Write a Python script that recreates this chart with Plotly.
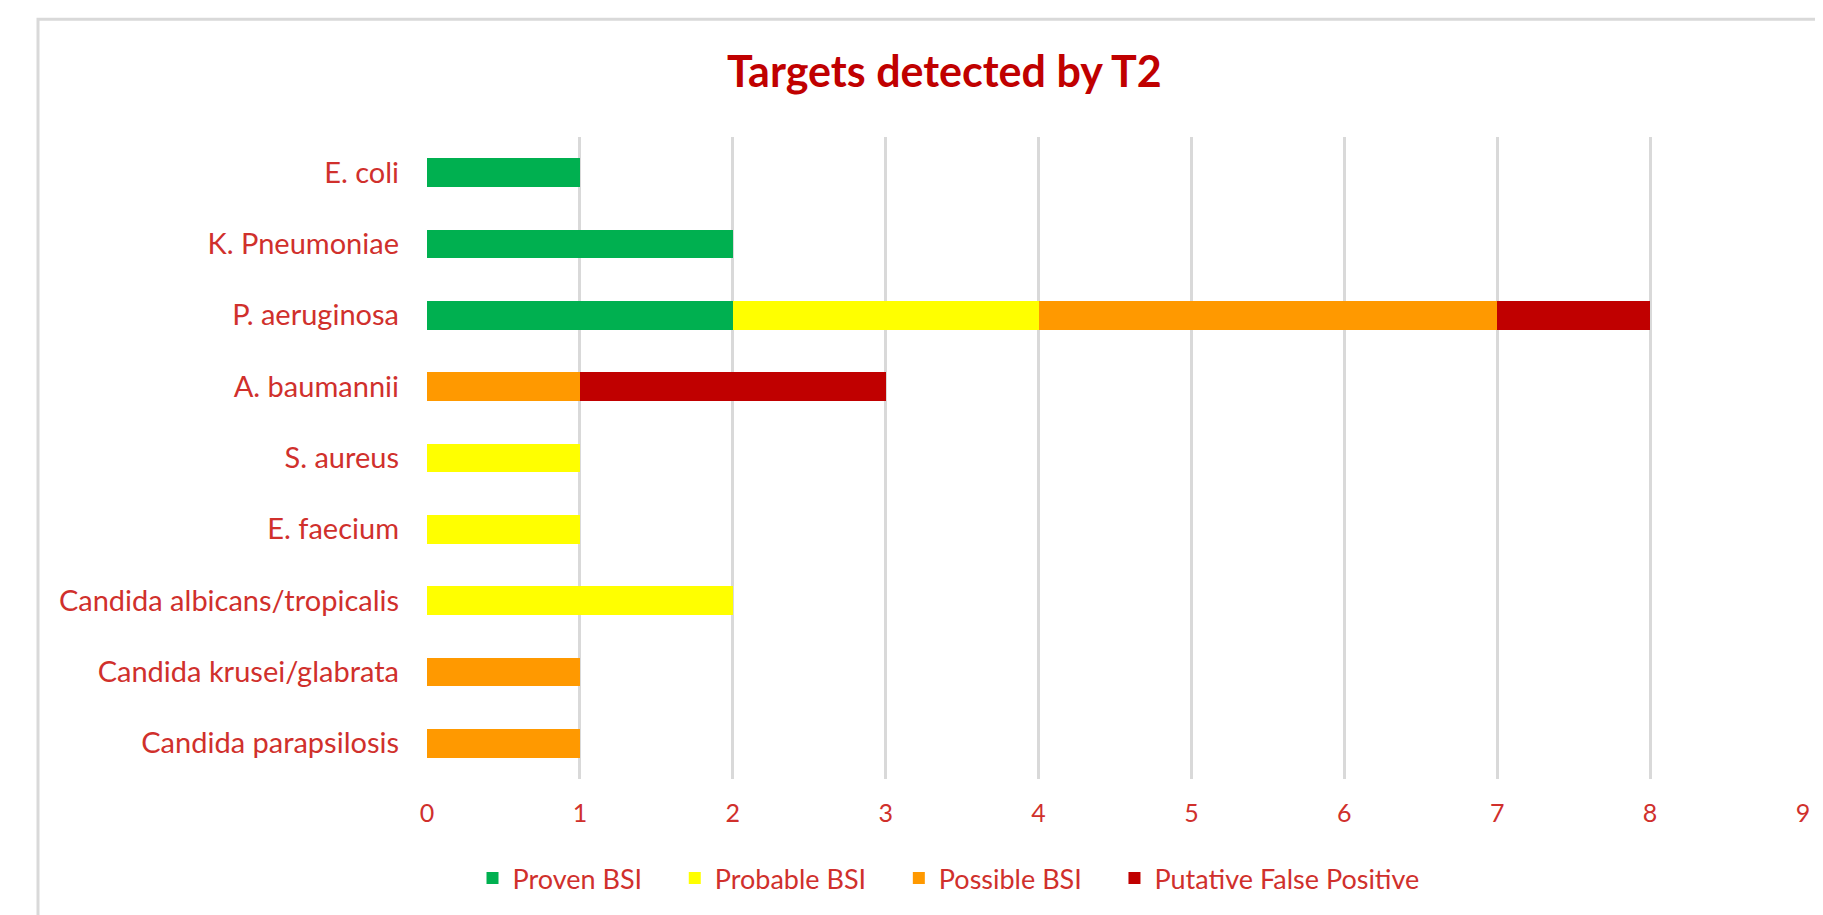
import plotly.graph_objects as go

categories = ["E. coli", "K. Pneumoniae", "P. aeruginosa", "A. baumannii", "S. aureus",
              "E. faecium", "Candida albicans/tropicalis", "Candida krusei/glabrata",
              "Candida parapsilosis"]
proven = [1, 2, 2, 0, 0, 0, 0, 0, 0]
probable = [0, 0, 2, 0, 1, 1, 2, 0, 0]
possible = [0, 0, 3, 1, 0, 0, 0, 1, 1]
false_pos = [0, 0, 1, 2, 0, 0, 0, 0, 0]
series_names = ["Proven BSI", "Probable BSI", "Possible BSI", "Putative False Positive"]
series_colors = ["#00B050", "#FFFF00", "#FF9900", "#C00000"]
x_ticks = list(range(0, 10))

TITLE_COLOR = "#C00000"
TEXT = "#D0302C"
FONT = "Lato, 'Open Sans', sans-serif"
PAD = "\u00a0" * 4

fig = go.Figure()
for i, (name, vals, col) in enumerate(zip(series_names, [proven, probable, possible, false_pos], series_colors)):
    label = name + (PAD if i < len(series_names) - 1 else "")
    fig.add_trace(go.Bar(y=categories, x=vals, name=label, orientation="h",
                         marker=dict(color=col, line=dict(width=0))))

fig.update_layout(
    barmode="stack",
    bargap=0.6,
    width=1815, height=907,
    margin=dict(l=419, r=20, t=129, b=134),
    paper_bgcolor="white", plot_bgcolor="white",
    font=dict(family=FONT, color=TEXT, size=29),
    title=dict(text="<b>Targets detected by T2</b>", x=0.376, xref="paper", xanchor="center",
               y=1 - 64 / 907, yanchor="middle",
               font=dict(family=FONT, size=43, color=TITLE_COLOR)),
    xaxis=dict(range=[0, 9], tickvals=x_ticks, showgrid=True, gridcolor="#D9D9D9", gridwidth=2.5,
               zeroline=False, showline=False, ticks="", ticklabelstandoff=17,
               tickfont=dict(size=25, color=TEXT)),
    yaxis=dict(categoryorder="array", categoryarray=categories, autorange="reversed",
               showgrid=False, zeroline=False, showline=False, ticks="",
               ticklabelstandoff=27, tickfont=dict(size=29, color=TEXT)),
    legend=dict(orientation="h", x=0.379, xanchor="center", y=-0.155, yanchor="middle",
                font=dict(size=27, color=TEXT), traceorder="normal",
                itemwidth=30, tracegroupgap=0),
    showlegend=True,
    shapes=[dict(type="rect", xref="paper", yref="paper", x0=-0.2827, x1=1.05,
                 y0=-0.5, y1=1 + (137 - 19) / 644, line=dict(color="#D9D9D9", width=3),
                 fillcolor="rgba(0,0,0,0)", layer="below")],
)

fig.write_html("out.html")
